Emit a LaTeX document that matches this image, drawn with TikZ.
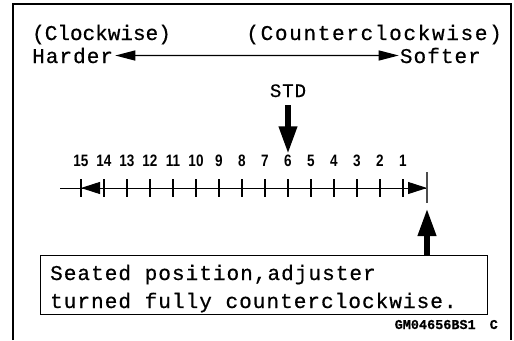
\documentclass[tikz,border=0pt]{standalone}
\usepackage{fontspec}
\setmonofont[FakeBold=0.6]{Liberation Mono}
\setsansfont{Liberation Sans}
\newfontfamily\numfont[FakeStretch=0.82]{Liberation Sans}
\usetikzlibrary{arrows.meta,positioning}
\tikzset{
  frame/.style={line width=2pt},
  txt/.style={font=\fontsize{21}{25}\selectfont\ttfamily\addfontfeature{LetterSpace=5}, inner sep=0pt},
  plaintxt/.style={font=\fontsize{21}{25}\selectfont\ttfamily, inner sep=0pt},
  widetxt/.style={font=\fontsize{21}{25}\selectfont\ttfamily\addfontfeature{LetterSpace=8}, inner sep=0pt},
  stdtxt/.style={font=\fontsize{19}{23}\selectfont\ttfamily\addfontfeature{LetterSpace=5}, inner sep=0pt},
  num/.style={font=\fontsize{16.5}{18}\selectfont\numfont\bfseries, inner sep=0pt},
  code/.style={font=\fontsize{13.5}{16}\selectfont\ttfamily\bfseries, inner sep=0pt},
  dirarrow/.style={line width=1.3pt, {Triangle[length=20pt,width=10pt]}-{Triangle[length=20pt,width=10pt]}},
  axisline/.style={line width=1pt},
  tick/.style={line width=1.4pt},
  endmark/.style={line width=1.4pt, black!70},
  scalearrow/.style={line width=1pt, -{Triangle[length=19pt,width=12pt]}},
  bigarrow/.style={line width=6.5pt, -{Triangle[length=28pt,width=17pt]}},
  notebox/.style={draw, line width=1pt, minimum width=447pt, minimum height=59pt, inner sep=0pt}
}

\begin{document}
\begin{tikzpicture}[x=1pt,y=-1pt]
  \useasboundingbox (0,0) rectangle (514,340);
  \draw[frame] (13,340) -- (13,4) -- (511,4) -- (511,340);
  % turning direction
  \node[plaintxt, anchor=base west] (cw) at (32,40) {(Clockwise)};
  \node[widetxt, anchor=base east] (ccw) at (502,40) {(Counterclockwise)};
  \node[txt, anchor=base west] (hard) at (32,63) {Harder};
  \node[txt, anchor=base east] (soft) at (481,63) {Softer};
  \draw[dirarrow] ([xshift=2pt]hard.east) -- ([xshift=-1pt]soft.west);
  % adjuster scale
  \draw[axisline] (60,188) coordinate (axL) -- (427,188) coordinate (axR);
  \foreach \n in {1,...,15}{
    \coordinate (t\n) at ({403-(\n-1)*23},188);
    \draw[tick] ([yshift=9pt]t\n) -- ([yshift=-9pt]t\n);
    \node[num, anchor=base] (n\n) at ({403-(\n-1)*23},166) {\n};
  }
  \draw[scalearrow] (t14) -- (t15);
  \draw[scalearrow] (t1) -- (axR);
  \draw[endmark] (427,172) coordinate (endT) -- (427,203) coordinate (endB);
  % standard setting
  \node[stdtxt, anchor=base] (std) at (288,97) {STD};
  \draw[bigarrow] ([yshift=-8pt]std.south) -- (n6.north);
  % seated position note
  \node[notebox, anchor=north west] (note) at (40,255) {};
  \node[txt, anchor=base west] (line1) at (50,280) {Seated position,adjuster};
  \node[txt, anchor=base west] (line2) at (50,308) {turned fully counterclockwise.};
  \draw[bigarrow] (note.north -| endB) -- ([yshift=-5pt]endB);
  \node[code, anchor=base east] (gm) at (498,329) {GM04656BS1\hspace{14pt}C};
\end{tikzpicture}
\end{document}
